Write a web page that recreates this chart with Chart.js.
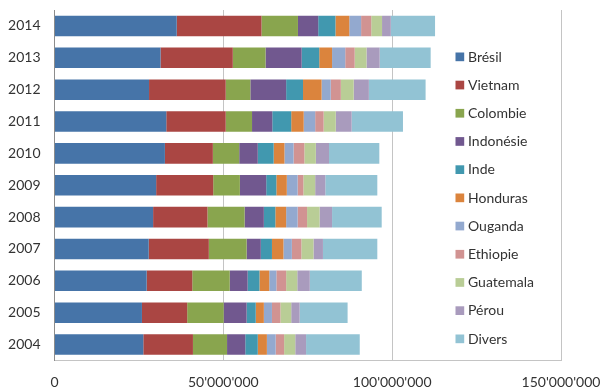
<!DOCTYPE html>
<html>
<head>
<meta charset="utf-8">
<script src="https://cdn.jsdelivr.net/npm/chart.js@4.4.1/dist/chart.umd.min.js"></script>
<style>
  html, body { margin: 0; padding: 0; background: #fff; }
  #wrap { width: 605px; height: 389px; }
</style>
</head>
<body>
<div id="wrap"><canvas id="chart"></canvas></div>
<script>
// production by country, one value per year (millions)
const years = ["2004", "2005", "2006", "2007", "2008", "2009", "2010", "2011", "2012", "2013", "2014"]
const bresil    = [26.3, 25.9, 27.3, 27.9, 29.2, 30.1, 32.7, 33.1, 28.0, 31.4, 36.2]
const vietnam   = [14.7, 13.4, 13.5, 17.8, 16.1, 16.9, 14.2, 17.6, 22.7, 21.4, 25.1]
const colombie  = [10.1, 10.8, 11.1, 11.2, 11.0, 7.9, 7.8, 7.8, 7.3, 9.7, 10.8]
const indonesie = [5.4, 6.8, 5.3, 4.2, 5.7, 7.8, 5.5, 6.0, 10.6, 10.7, 6.0]
const inde      = [3.7, 2.7, 3.5, 3.3, 3.4, 3.0, 4.7, 5.6, 5.0, 5.2, 5.1]
const honduras  = [2.7, 2.4, 2.9, 3.4, 3.2, 3.1, 3.2, 3.7, 5.5, 3.8, 4.1]
const ouganda   = [2.6, 2.4, 2.1, 2.5, 3.4, 3.2, 2.7, 3.4, 2.7, 3.9, 3.5]
const ethiopie  = [2.5, 2.5, 2.9, 2.8, 2.8, 1.7, 3.2, 2.5, 3.0, 2.8, 3.0]
const guatemala = [3.3, 3.2, 3.3, 3.6, 3.7, 3.5, 3.4, 3.6, 3.8, 3.5, 3.2]
const perou     = [3.2, 2.5, 3.7, 2.8, 3.7, 3.0, 3.9, 4.7, 4.5, 3.9, 2.6]
const divers    = [15.9, 14.2, 15.4, 16.1, 14.7, 15.4, 14.9, 15.2, 16.8, 15.1, 13.1]

const seriesNames = ["Brésil", "Vietnam", "Colombie", "Indonésie", "Inde", "Honduras",
                     "Ouganda", "Ethiopie", "Guatemala", "Pérou", "Divers"]
const seriesData = [bresil, vietnam, colombie, indonesie, inde, honduras,
                    ouganda, ethiopie, guatemala, perou, divers]
const seriesColors = ["#4674A8", "#AA4643", "#89A54E", "#71588F", "#4198AF", "#DB843D",
                      "#93A9CF", "#D19392", "#B9CD96", "#A99BBD", "#92C3D4"]

const xTicks = [0, 50000000, 100000000, 150000000]

const FONT = "Lato, 'Open Sans', sans-serif"
const TEXT = "#333333"

const fmt = v => String(v).replace(/\B(?=(\d{3})+(?!\d))/g, "'")

// legend sits inside the plot, to the right of the bars
const sideLegend = {
  id: "sideLegend",
  afterDraw(chart) {
    const ctx = chart.ctx
    ctx.save()
    ctx.font = "14px " + FONT
    ctx.textBaseline = "middle"
    chart.data.datasets.forEach((ds, i) => {
      const y = 57 + i * 28.2
      ctx.fillStyle = ds.backgroundColor
      ctx.fillRect(455.5, y - 4.5, 8.7, 8.7)
      ctx.fillStyle = TEXT
      ctx.fillText(ds.label, 468, y)
    })
    ctx.restore()
  }
}

const datasets = seriesNames.map((name, i) => ({
  label: name,
  data: seriesData[i].map(v => Math.round(v * 1000000)),
  backgroundColor: seriesColors[i],
  borderWidth: 0,
  barPercentage: 1,
  categoryPercentage: 0.645
}))

new Chart(document.getElementById("chart"), {
  type: "bar",
  data: { labels: years, datasets },
  plugins: [sideLegend],
  options: {
    indexAxis: "y",
    responsive: true,
    maintainAspectRatio: false,
    animation: false,
    events: [],
    layout: { padding: { top: 10, right: 44, left: 0, bottom: 0 } },
    plugins: {
      legend: { display: false },
      tooltip: { enabled: false }
    },
    scales: {
      x: {
        stacked: true,
        min: 0,
        max: 150000000,
        afterBuildTicks: s => { s.ticks = xTicks.map(v => ({ value: v })) },
        afterFit: s => { s.height = 28.5; s.paddingLeft = 0; s.paddingRight = 0 },
        grid: { color: "#c4c4c4", drawTicks: false },
        border: { display: true, color: "#c4c4c4" },
        ticks: {
          padding: 14,
          maxRotation: 0,
          color: TEXT,
          font: { family: FONT, size: 14 },
          callback: v => fmt(v)
        }
      },
      y: {
        stacked: true,
        reverse: true,
        afterFit: s => { s.width = 54.5; s.paddingTop = 0; s.paddingBottom = 0 },
        grid: { display: false, drawTicks: false },
        border: { display: true, color: "#8c8c8c" },
        ticks: {
          padding: 14,
          color: TEXT,
          font: { family: FONT, size: 14 }
        }
      }
    }
  }
})
</script>
</body>
</html>
